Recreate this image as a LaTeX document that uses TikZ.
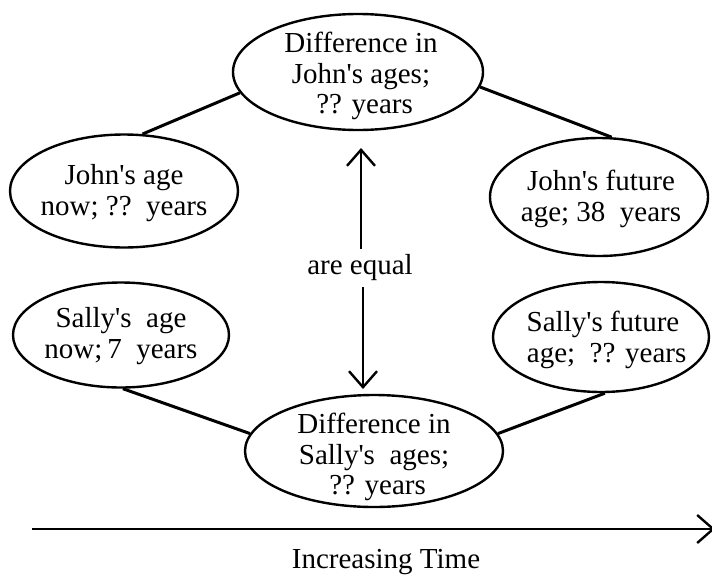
\documentclass[tikz,border=0pt]{standalone}
% Palatino when its metrics are installed, a Times-like face otherwise
\IfFileExists{pplr8t.tfm}{%
  \usepackage[T1]{fontenc}\renewcommand{\rmdefault}{ppl}}{%
  \usepackage{fontspec}\setmainfont{Liberation Serif}}
\usetikzlibrary{shapes.geometric,arrows.meta}
\newcommand{\ap}{\textquotesingle}
\begin{document}
\begin{tikzpicture}[x=1pt,y=-1pt,
  bubble/.style={ellipse,draw,line width=2.4pt,inner sep=0pt},
  txt/.style={font=\fontsize{29}{30.5}\selectfont,align=center,inner sep=0pt},
  link/.style={line width=3pt},
  barb/.style={line width=2.6pt,-{Straight Barb[length=16pt,width=28pt,line width=2.4pt]}}]
\useasboundingbox (0,0) rectangle (712,576);

% age bubbles
\node[bubble,minimum width=250pt,minimum height=116pt] (jdiff) at (358,72) {};
\node[bubble,minimum width=228pt,minimum height=113pt] (jnow) at (124,191) {};
\node[bubble,minimum width=218pt,minimum height=118pt] (jfut) at (599,197) {};
\node[bubble,minimum width=216pt,minimum height=105pt] (snow) at (121,335) {};
\node[bubble,minimum width=216pt,minimum height=110pt] (sfut) at (601,337) {};
\node[bubble,minimum width=258pt,minimum height=112pt] (sdiff) at (374,451) {};

% bubble texts
\node[txt] (jdiffT) at (361,76) {Difference in\\John\ap s ages;\\\ ?? years};
\node[txt] (jnowT) at (124,193) {John\ap s age\\now; ??\ \ years};
\node[txt] (jfutT) at (601,199) {John\ap s future\\age; 38\ \ years};
\node[txt] (snowT) at (121,336) {Sally\ap s\ \ age\\now;\,7\ \ years};
\node[txt] (sfutT) at (603,340) {Sally\ap s future\\\ age;\ \ ?? years};
\node[txt] (sdiffT) at (374,457) {Difference in\\Sally\ap s\ \ ages;\\\ ?? years};

% connectors
\draw[link] (jnow.72) -- (jdiff.190);
\draw[link] (jdiff.353) -- (jfut.78);
\draw[link] (snow.272) -- (sdiff.172);
\draw[link] (sfut.274) -- (sdiff.8);

% equality arrow
\node[txt] (eq) at (360,268) {are equal};
\coordinate (aU) at (361,148);
\coordinate (aD) at (363,389);
\draw[barb] (eq.north -| aU) ++(0,-6) coordinate (eqU) -- (aU);
\draw[barb] (eq.south -| aD) ++(0,6) coordinate (eqD) -- (aD);

% time axis
\coordinate (tL) at (32,529);
\coordinate (tR) at (715,529);
\draw[barb] (tL) -- (tR);
\node[txt] (time) at (386,562) {Increasing Time};
\end{tikzpicture}
\end{document}
